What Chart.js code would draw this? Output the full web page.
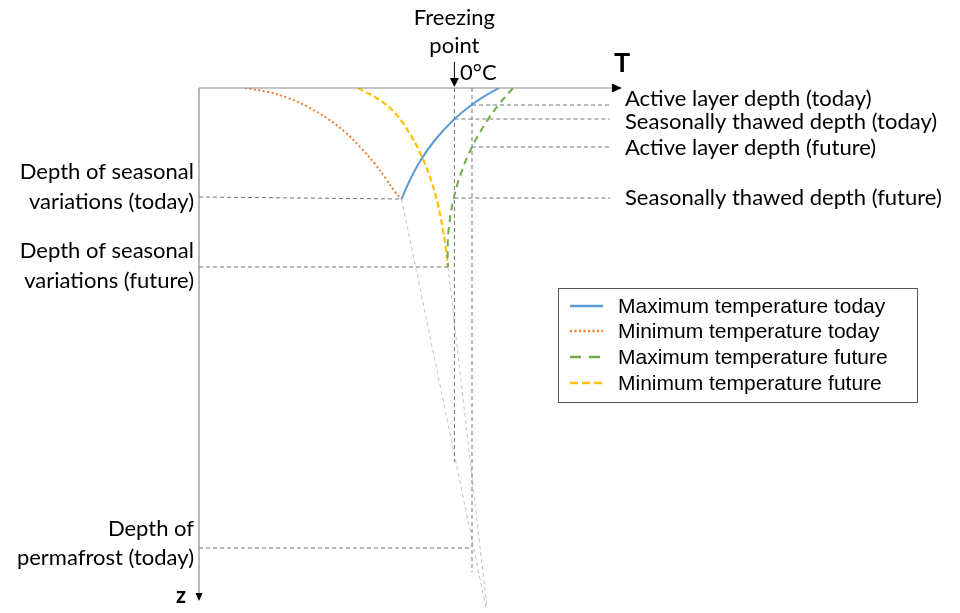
<!DOCTYPE html>
<html>
<head>
<meta charset="utf-8">
<script src="https://cdn.jsdelivr.net/npm/chart.js@4.4.0/dist/chart.umd.min.js"></script>
<style>
  html, body { margin: 0; padding: 0; background: #fff; }
  #wrap { width: 960px; height: 613px; position: relative; }
</style>
</head>
<body>
<div id="wrap"><canvas id="profile"></canvas></div>
<script>
// temperature T (x) and depth z (y, downward), schematic units
var maxToday = [[-3.52, 5.55], [-3.1, 4.6], [-2.56, 3.6], [-1.85, 2.6], [-0.93, 1.6], [-0.03, 0.85], [0.64, 0.4], [1.35, 0]];
var minToday = [[-11.35, 0], [-10.2, 0.2], [-9.2, 0.5], [-8.2, 0.95], [-7.2, 1.55], [-6.35, 2.2], [-5.5, 3.05], [-4.85, 3.8], [-4.3, 4.55], [-3.85, 5.2], [-3.52, 5.55]];
var maxFuture = [[2.05, 0], [1.32, 0.85], [0.62, 1.85], [0, 2.95], [-0.49, 4.1], [-0.91, 5.5], [-1.17, 7.1], [-1.22, 8.2], [-1.2, 8.95]];
var minFuture = [[-5.7, 0], [-4.7, 0.55], [-3.85, 1.25], [-3.1, 2.3], [-2.5, 3.45], [-2.05, 4.6], [-1.7, 5.85], [-1.45, 7.1], [-1.3, 8.1], [-1.2, 8.95]];

var seriesNames = ['Maximum temperature today', 'Minimum temperature today', 'Maximum temperature future', 'Minimum temperature future'];

var freezingT = -0.88;
var activeToday = 0.85, thawedToday = 1.55, activeFuture = 2.95, thawedFuture = 5.5;
var seasonalToday = 5.55, seasonalFuture = 8.95, permafrostToday = 23.0;
var labelEndT = 6.9, deepZ = 26.0;

function pts(a) { return a.map(function (p) { return { x: p[0], y: p[1] }; }); }
function seg(a, b) { return [{ x: a[0], y: a[1] }, { x: b[0], y: b[1] }]; }

var guides = [
  seg([freezingT, 0], [freezingT, 18.7]),
  seg([0, 0], [0, 24.2]),
  seg([0, activeToday], [labelEndT, activeToday]),
  seg([freezingT, thawedToday], [labelEndT, thawedToday]),
  seg([0, activeFuture], [labelEndT, activeFuture]),
  seg([freezingT, thawedFuture], [labelEndT, thawedFuture]),
  seg([-13.65, 5.45], [-3.52, seasonalToday]),
  seg([-13.65, seasonalFuture], [-1.2, seasonalFuture]),
  seg([-13.65, permafrostToday], [0, permafrostToday])
];
var fadeLines = [
  seg([-3.52, seasonalToday], [0.7, deepZ]),
  seg([-1.2, seasonalFuture], [0.75, deepZ])
];

var datasets = [
  { label: seriesNames[0], data: pts(maxToday), borderColor: '#5B9BD5', borderWidth: 2 },
  { label: seriesNames[1], data: pts(minToday), borderColor: '#ED7D31', borderWidth: 2, borderDash: [2, 2.5] },
  { label: seriesNames[2], data: pts(maxFuture), borderColor: '#70AD47', borderWidth: 2, borderDash: [7, 5] },
  { label: seriesNames[3], data: pts(minFuture), borderColor: '#FFC000', borderWidth: 2.2, borderDash: [6, 3] }
];
datasets.forEach(function (d) { d.tension = 0.4; });
guides.forEach(function (g) {
  datasets.push({ label: '', data: g, borderColor: '#737373', borderWidth: 1, borderDash: [4, 3] });
});
fadeLines.forEach(function (g) {
  datasets.push({ label: '', data: g, borderColor: '#c4c4c4', borderWidth: 1, borderDash: [4, 3] });
});
datasets.forEach(function (d) { d.showLine = true; d.pointRadius = 0; d.fill = false; });

var txtFont = '22px Lato';

function arrowDown(ctx, x, y, w, h) {
  ctx.beginPath();
  ctx.moveTo(x - w, y - h); ctx.lineTo(x + w, y - h); ctx.lineTo(x, y); ctx.closePath(); ctx.fill();
}

var annotations = {
  id: 'annotations',
  afterDatasetsDraw: function (chart) {
    var ctx = chart.ctx, a = chart.chartArea;
    var xs = chart.scales.x, ys = chart.scales.y;
    ctx.save();
    // axes
    ctx.strokeStyle = '#8c8c8c'; ctx.lineWidth = 1.2;
    ctx.beginPath();
    ctx.moveTo(a.left, a.top); ctx.lineTo(a.right - 6, a.top);
    ctx.moveTo(a.left, a.top); ctx.lineTo(a.left, 594);
    ctx.stroke();
    ctx.fillStyle = '#000';
    ctx.beginPath();
    ctx.moveTo(a.right + 2, a.top); ctx.lineTo(a.right - 8, a.top - 4.5); ctx.lineTo(a.right - 8, a.top + 4.5); ctx.closePath(); ctx.fill();
    arrowDown(ctx, a.left, 601, 3.5, 8);
    // freezing point arrow
    var fx = xs.getPixelForValue(freezingT);
    ctx.strokeStyle = '#000'; ctx.lineWidth = 1;
    ctx.beginPath(); ctx.moveTo(fx, 62); ctx.lineTo(fx, 80); ctx.stroke();
    arrowDown(ctx, fx, 87, 4.5, 9);

    ctx.fillStyle = '#000';
    ctx.textBaseline = 'middle';
    ctx.font = 'bold 27px Lato';
    ctx.textAlign = 'center';
    ctx.fillText('T', 622, 63);
    ctx.font = 'bold 22px Lato';
    ctx.fillText('z', 181, 596);

    ctx.font = txtFont;
    ctx.fillText('Freezing', fx, 18);
    ctx.fillText('point', fx, 46);
    ctx.textAlign = 'left';
    ctx.fillText('0°C', xs.getPixelForValue(0) - 12, 73);
    ctx.fillText('Active layer depth (today)', 625, 99);
    ctx.fillText('Seasonally thawed depth (today)', 625, 122);
    ctx.fillText('Active layer depth (future)', 625, 148);
    ctx.fillText('Seasonally thawed depth (future)', 625, ys.getPixelForValue(thawedFuture));
    ctx.textAlign = 'right';
    ctx.fillText('Depth of seasonal', 194, 172);
    ctx.fillText('variations (today)', 194, 202);
    ctx.fillText('Depth of seasonal', 194, 251);
    ctx.fillText('variations (future)', 194, 281);
    ctx.fillText('Depth of', 194, 529);
    ctx.fillText('permafrost (today)', 194, 558);

    // legend box
    ctx.strokeStyle = '#555'; ctx.lineWidth = 1;
    ctx.strokeRect(558.5, 288.5, 359, 114);
    var rows = [306, 331, 357, 383];
    var sampleDash = [[], [2, 2.5], [11, 8], [8, 4]];
    ctx.font = '21px "Liberation Sans"';
    ctx.textAlign = 'left';
    for (var i = 0; i < 4; i++) {
      var d = chart.data.datasets[i];
      ctx.strokeStyle = d.borderColor; ctx.lineWidth = 2.5;
      ctx.setLineDash(sampleDash[i]);
      ctx.beginPath(); ctx.moveTo(570, rows[i]); ctx.lineTo(603, rows[i]); ctx.stroke();
      ctx.setLineDash([]);
      ctx.fillStyle = '#000';
      ctx.fillText(d.label, 618, rows[i] + 1);
    }
    ctx.restore();
  }
};

var chart = new Chart(document.getElementById('profile'), {
  type: 'scatter',
  data: { datasets: datasets },
  options: {
    responsive: true,
    maintainAspectRatio: false,
    animation: false,
    layout: { padding: { left: 199, top: 88, right: 340, bottom: 3 } },
    scales: {
      x: { type: 'linear', min: -13.65, max: 7.4, display: false },
      y: { type: 'linear', min: 0, max: 26.1, reverse: true, display: false }
    },
    plugins: {
      legend: { display: false },
      tooltip: { enabled: false }
    }
  },
  plugins: [annotations]
});
</script>
</body>
</html>
